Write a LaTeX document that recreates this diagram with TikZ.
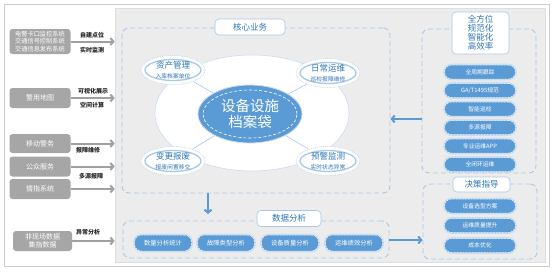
\documentclass[tikz,border=0pt]{standalone}
\usepackage{fontspec}
\setmainfont{Noto Sans CJK SC}
\usetikzlibrary{arrows.meta,shapes.geometric}
\definecolor{pblue}{HTML}{5B9BD5}
\definecolor{tblue}{HTML}{2E75B6}
\definecolor{lblue}{HTML}{A9C8E8}
\definecolor{gbox}{HTML}{A6A6A6}
\definecolor{panelc}{HTML}{ECECEC}
\definecolor{garrow}{HTML}{A0A0A0}
\definecolor{halo}{HTML}{C9DCEF}
\newcommand{\fs}[1]{\fontsize{#1}{#1}\selectfont}
\newcommand{\fsl}[2]{\fontsize{#1}{#2}\selectfont}
\begin{document}
\begin{tikzpicture}[x=1pt,y=-1pt,
  graybox/.style={fill=gbox, rounded corners=3pt, text=white, minimum width=61pt, align=center, inner sep=1pt, font=\fsl{7}{8.5}},
  garr/.style={draw=garrow, line width=2pt, -{Straight Barb[length=3pt,width=7pt]}},
  barr/.style={draw=pblue, line width=2pt, -{Straight Barb[length=3pt,width=7pt]}},
  alabel/.style={font=\fs{6}\bfseries, text=black!85, inner sep=0pt},
  dframe/.style={draw=lblue, dash pattern=on 5pt off 3pt, line width=0.9pt, rounded corners=7pt, minimum width=#1},
  tbox/.style={fill=white, draw=lblue, line width=0.6pt, rounded corners=4pt, text=tblue, align=center, inner sep=0pt},
  pill/.style={fill=pblue, draw=white, dash pattern=on 2pt off 1pt, line width=0.5pt, rounded corners=7pt, text=white, inner sep=0pt,
     preaction={draw=halo, line width=2.6pt, solid}},
  rpill/.style={pill, minimum width=71pt, minimum height=14pt, font=\fs{5.8}},
  dpill/.style={pill, minimum width=57pt, minimum height=16pt, font=\fs{6.3}},
  souter/.style={ellipse, fill=white, draw=halo, dash pattern=on 1pt off 1pt, line width=0.8pt, minimum width=64pt, minimum height=29pt, inner sep=0pt},
  sinner/.style={ellipse, draw=lblue, line width=1.3pt, minimum width=56pt, minimum height=21pt, inner sep=0pt},
  stext/.style={align=center, text=tblue, inner sep=0pt, font=\fsl{8.5}{9.5}},
  conn/.style={draw=lblue, line width=0.6pt}
]
\useasboundingbox (0,0) rectangle (554,271);
% outer frame and panel
\node[draw=black!20, fill=white, line width=0.8pt, minimum width=545pt, minimum height=262pt, inner sep=0pt] (outer) at (276.5,135.5) {};
\node[draw=black!13, fill=panelc, line width=0.6pt, minimum width=430pt, minimum height=254pt, inner sep=0pt] (panel) at (330,135) {};

% left boxes
\node[graybox, minimum height=25pt, font=\fsl{6.2}{7.3}] (b1) at (40,41.5) {电警卡口监控系统\\交通信号控制系统\\交通信息发布系统};
\node[graybox, minimum height=20pt] (b2) at (40,98) {警用地图};
\node[graybox, minimum height=19pt] (b3) at (40,143.5) {移动警务};
\node[graybox, minimum height=20pt] (b4) at (40,166.5) {公众服务};
\node[graybox, minimum height=20pt] (b5) at (40,189) {情指系统};
\node[graybox, minimum height=20pt, minimum width=59pt] (b6) at (42.5,241) {非现场数据\\集指数据};

\draw[garr] (b1.east) -- (b1.east -| panel.west);
\draw[garr] (b2.east) -- (b2.east -| panel.west);
\draw[garr] (b3.east) -- (b3.east -| panel.west);
\draw[garr] (b4.east) -- (b4.east -| panel.west);
\draw[garr] (b5.east) -- (b5.east -| panel.west);
\draw[garr] (b6.east) -- (b6.east -| panel.west);

\node[alabel] (l1) at (92,35) {自建点位};
\node[alabel] (l2) at (92,50) {实时监测};
\node[alabel] (l3) at (93,91) {可视化展示};
\node[alabel] (l4) at (92,105) {空间计算};
\node[alabel] (l5) at (88,150.5) {报障维修};
\node[alabel] (l6) at (91,176) {多源报障};
\node[alabel] (l7) at (88,232) {异常分析};

% frames
\node[dframe=268pt, minimum height=165pt] (core) at (256,110.5) {};
\node[dframe=266pt, minimum height=37pt] (data) at (256,239.5) {};
\node[dframe=114pt, minimum height=144pt] (rt) at (479,101) {};
\node[dframe=114pt, minimum height=75pt] (rb) at (480,221.5) {};

% labels of frames
\node[tbox, minimum width=70pt, minimum height=16pt, font=\fs{8.5}] (tcore) at (250,27) {核心业务};
\node[tbox, minimum width=64pt, minimum height=16pt, font=\fs{8.5}] (tdata) at (289,218.5) {数据分析};
\node[tbox, minimum width=57pt, minimum height=42pt, font=\fs{8.5}] (trt) at (480.5,33) {全方位\\[0.6pt]规范化\\[0.6pt]智能化\\[0.6pt]高效率};
\node[tbox, minimum width=57pt, minimum height=15pt, font=\fs{8.5}] (trb) at (481.5,184.5) {决策指导};

% core contents
\node[ellipse, fill=white, draw=halo, line width=0.6pt, minimum width=194pt, minimum height=116pt] (white) at (252,113) {};
\node[ellipse, fill=pblue, draw=halo, line width=0.8pt, minimum width=104pt, minimum height=58pt] (center) at (250,114) {};
\node[ellipse, draw=white, dash pattern=on 3pt off 2pt, line width=0.6pt, minimum width=94pt, minimum height=48pt] (centerin) at (250,114) {};
\node[align=center, text=white, font=\fsl{14.5}{16.5}, inner sep=0pt] (ctext) at (250,114) {设备设施\\档案袋};

\node[souter] (za) at (173,70) {};
\node[souter] (zb) at (328,73) {};
\node[souter] (zc) at (173,161) {};
\node[souter] (zd) at (328,161) {};
\draw[conn] (za) -- (center);
\draw[conn] (zb) -- (center);
\draw[conn] (zc) -- (center);
\draw[conn] (zd) -- (center);
\node[sinner] (ia) at (173,70) {};
\node[sinner] (ib) at (328,73) {};
\node[sinner] (ic) at (173,161) {};
\node[sinner] (id) at (328,161) {};
\node[stext] (ta) at (173,70) {资产管理\\{\fsl{5.8}{8}入库档案单位}};
\node[stext] (tb) at (328,73) {日常运维\\{\fsl{5.8}{8}巡检报障维修}};
\node[stext] (tc) at (173,161) {变更报废\\{\fsl{5.8}{8}报废闲置移交}};
\node[stext] (td) at (328,161) {预警监测\\{\fsl{5.8}{8}实时状态异常}};

% data pills
\node[dpill] (d1) at (163,243) {数量分析统计};
\node[dpill] (d2) at (226,243) {故障类型分析};
\node[dpill] (d3) at (290,243) {设备质量分析};
\node[dpill] (d4) at (354,243) {运维绩效分析};

% right pills
\node[rpill] (r1) at (480,72) {全周期跟踪};
\node[rpill] (r2) at (480,90.5) {GA/T1495规范};
\node[rpill] (r3) at (480,109) {智能巡检};
\node[rpill] (r4) at (480,127.5) {多源报障};
\node[rpill] (r5) at (480,146) {专业运维APP};
\node[rpill] (r6) at (480,164.5) {全闭环运维};
\node[rpill] (s1) at (480,206) {设备选型方案};
\node[rpill] (s2) at (480,225.5) {运维质量提升};
\node[rpill] (s3) at (480,245.5) {成本优化};

% blue arrows
\coordinate (downend) at (208,214);
\draw[barr] (core.south -| downend) -- (downend);
\coordinate (lefty) at (0,119);
\draw[barr] (rt.west |- lefty) -- (core.east |- lefty);
\coordinate (righty) at (0,240);
\draw[barr] (data.east |- righty) -- (rb.west |- righty);
\end{tikzpicture}
\end{document}
